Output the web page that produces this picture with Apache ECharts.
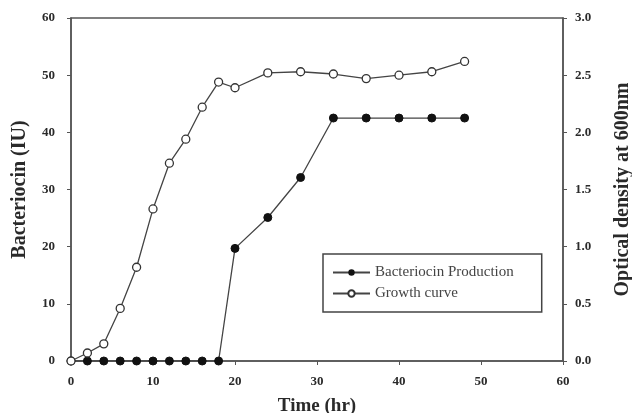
<!DOCTYPE html>
<html>
<head>
<meta charset="utf-8">
<script src="https://cdn.jsdelivr.net/npm/echarts@6/dist/echarts.min.js"></script>
<style>
  html, body { margin: 0; padding: 0; background: #fff; }
  #chart { width: 632px; height: 413px; }
</style>
</head>
<body>
<div id="chart"></div>
<script>
// sampling times (hr)
const timeBac = [0, 2, 4, 6, 8, 10, 12, 14, 16, 18, 20, 24, 28, 32, 36, 40, 44, 48];
const bacteriocin = [0, 0, 0, 0, 0, 0, 0, 0, 0, 0, 19.7, 25.1, 32.1, 42.5, 42.5, 42.5, 42.5, 42.5];
const timeGrowth = [0, 2, 4, 6, 8, 10, 12, 14, 16, 18, 20, 24, 28, 32, 36, 40, 44, 48];
const growthOD = [0.0, 0.07, 0.15, 0.46, 0.82, 1.33, 1.73, 1.94, 2.22, 2.44, 2.39, 2.52, 2.53, 2.51, 2.47, 2.50, 2.53, 2.62];

const ink = '#2a2a2a';
const serif = '"Liberation Serif", "DejaVu Serif", serif';

let chart = echarts.init(document.getElementById('chart'));

chart.setOption({
    animation: false,
    backgroundColor: '#fff',
    textStyle: { fontFamily: serif, color: ink },
    grid: {
        left: 71,
        right: 69,
        top: 18,
        bottom: 52,
        outerBoundsMode: 'none',
        containLabel: false,
        show: true,
        borderColor: '#555',
        borderWidth: 1.5
    },
    legend: {
        left: 323,
        top: 254,
        orient: 'vertical',
        itemGap: 6,
        itemWidth: 37,
        itemHeight: 8,
        padding: [11, 28, 11, 9],
        borderColor: '#444',
        borderWidth: 1.5,
        textStyle: { fontFamily: serif, fontSize: 15, color: '#444' },
        data: ['Bacteriocin Production', 'Growth curve']
    },
    xAxis: {
        type: 'value',
        min: 0,
        max: 60,
        interval: 10,
        name: 'Time (hr)',
        nameLocation: 'middle',
        nameGap: 36,
        nameTextStyle: { fontFamily: serif, fontWeight: 'bold', fontSize: 19, color: ink },
        axisLine: { lineStyle: { color: '#555', width: 1.5 } },
        axisTick: { length: 4, lineStyle: { color: '#555' } },
        axisLabel: { fontFamily: serif, fontWeight: 'bold', fontSize: 13, color: ink, margin: 14 },
        splitLine: { show: false }
    },
    yAxis: [
        {
            type: 'value',
            min: 0,
            max: 60,
            interval: 10,
            name: 'Bacteriocin (IU)',
            nameLocation: 'middle',
            nameGap: 41,
            nameTextStyle: { fontFamily: serif, fontWeight: 'bold', fontSize: 20, color: ink },
            axisLine: { show: true, lineStyle: { color: '#555', width: 1.5 } },
            axisTick: { show: true, length: 4, lineStyle: { color: '#555' } },
            axisLabel: { fontFamily: serif, fontWeight: 'bold', fontSize: 13, color: ink, margin: 16 },
            splitLine: { show: false }
        },
        {
            type: 'value',
            position: 'right',
            min: 0,
            max: 3,
            interval: 0.5,
            name: 'Optical density at 600nm',
            nameLocation: 'middle',
            nameRotate: 90,
            nameGap: 50,
            nameTextStyle: { fontFamily: serif, fontWeight: 'bold', fontSize: 20, color: ink },
            axisLine: { show: true, lineStyle: { color: '#555', width: 1.5 } },
            axisTick: { show: true, length: 4, lineStyle: { color: '#555' } },
            axisLabel: {
                fontFamily: serif, fontWeight: 'bold', fontSize: 13, color: ink, margin: 12,
                formatter: v => v.toFixed(1)
            },
            splitLine: { show: false }
        }
    ],
    series: [
        {
            name: 'Bacteriocin Production',
            type: 'line',
            yAxisIndex: 0,
            data: timeBac.map((t, i) => [t, bacteriocin[i]]),
            symbol: 'circle',
            symbolSize: 8,
            lineStyle: { color: '#444', width: 1.3 },
            itemStyle: { color: '#111', borderColor: '#111' }
        },
        {
            name: 'Growth curve',
            type: 'line',
            yAxisIndex: 1,
            data: timeGrowth.map((t, i) => [t, growthOD[i]]),
            symbol: 'circle',
            symbolSize: 8,
            lineStyle: { color: '#444', width: 1.3 },
            itemStyle: { color: '#fff', borderColor: '#333', borderWidth: 1.3 }
        }
    ]
});
</script>
</body>
</html>
